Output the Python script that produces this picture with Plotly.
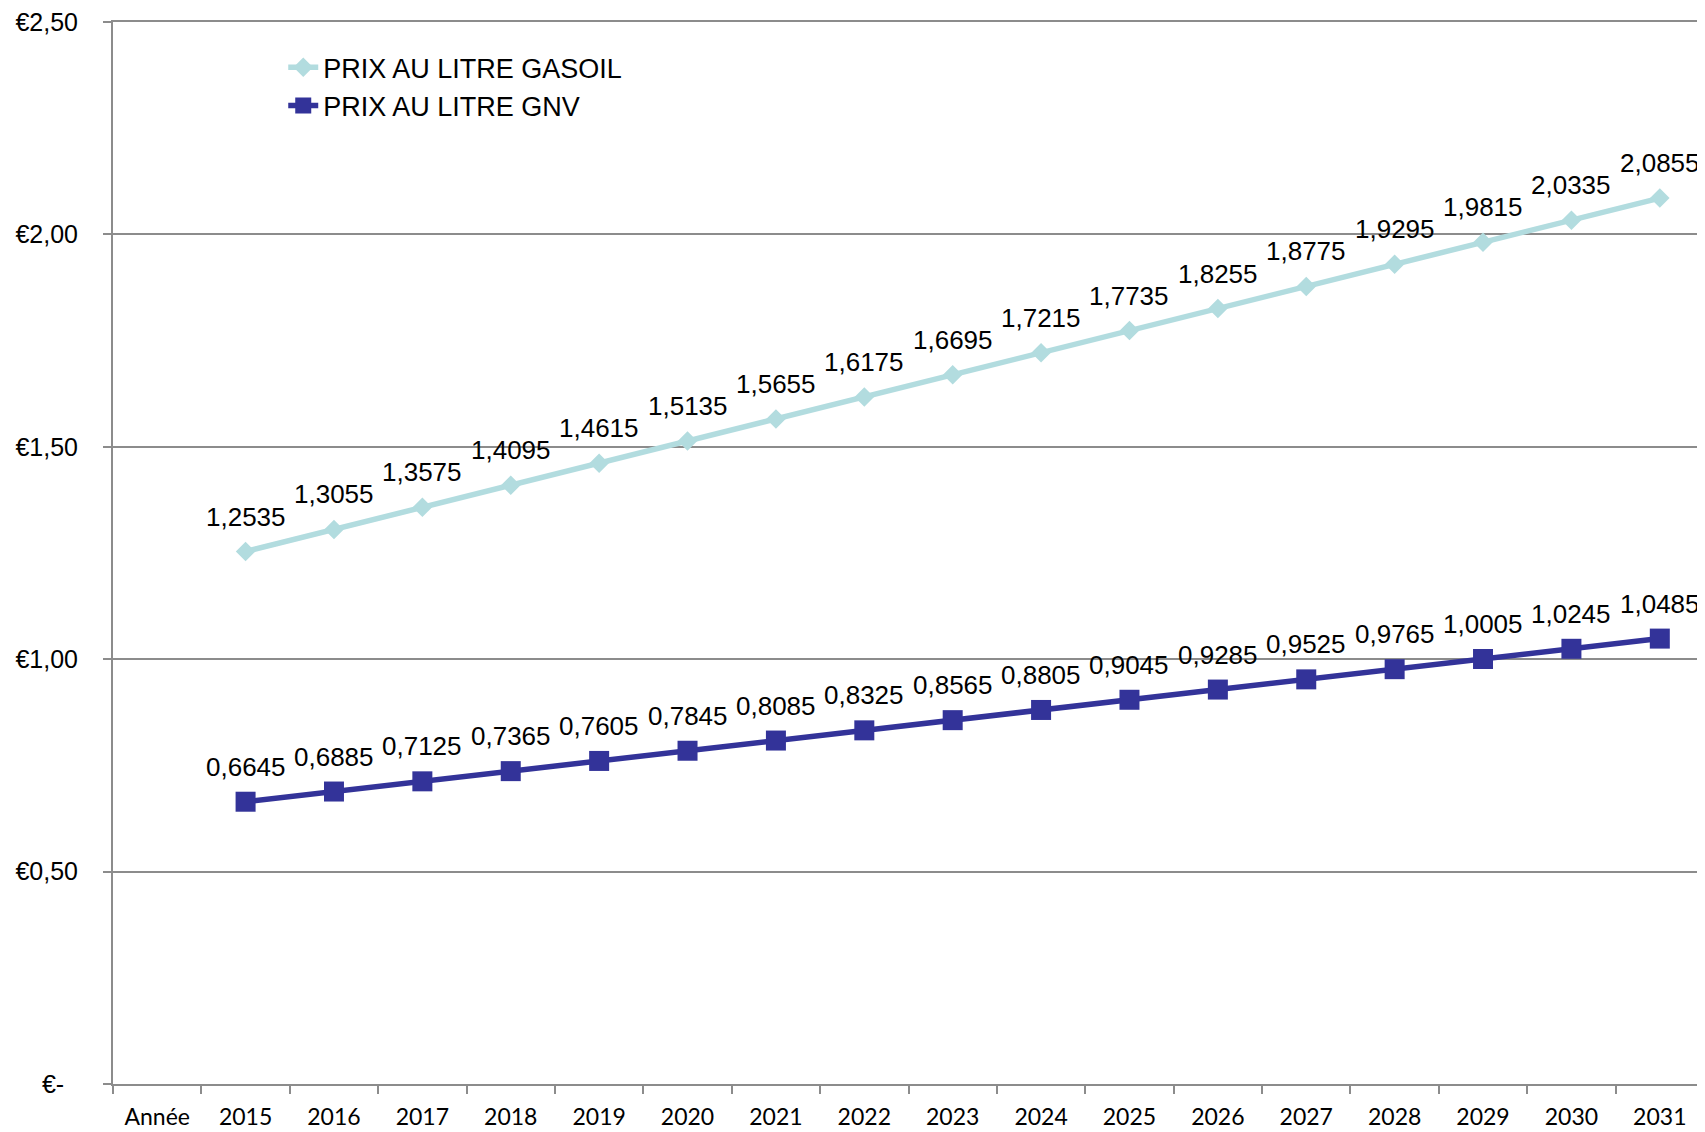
import plotly.graph_objects as go

categories = ["Année", "2015", "2016", "2017", "2018", "2019", "2020", "2021", "2022",
              "2023", "2024", "2025", "2026", "2027", "2028", "2029", "2030", "2031"]
years = categories[1:]
gasoil = [1.2535, 1.3055, 1.3575, 1.4095, 1.4615, 1.5135, 1.5655, 1.6175, 1.6695,
          1.7215, 1.7735, 1.8255, 1.8775, 1.9295, 1.9815, 2.0335, 2.0855]
gnv = [0.6645, 0.6885, 0.7125, 0.7365, 0.7605, 0.7845, 0.8085, 0.8325, 0.8565,
       0.8805, 0.9045, 0.9285, 0.9525, 0.9765, 1.0005, 1.0245, 1.0485]
y_tickvals = [0, 0.5, 1.0, 1.5, 2.0, 2.5]
y_ticktext = ["€-\u00a0\u00a0", "€0,50", "€1,00", "€1,50", "€2,00", "€2,50"]
names = ["PRIX AU LITRE GASOIL", "PRIX AU LITRE GNV"]

C_GAS = "#B2DCDF"
C_GNV = "#333399"
GRID = "#8C8C8C"
FONT = "Liberation Sans, Arial, sans-serif"

fig = go.Figure()
fig.add_trace(go.Scatter(
    x=years, y=gasoil, name=names[0], mode="lines+markers",
    line=dict(color=C_GAS, width=5.5),
    marker=dict(symbol="diamond", size=15, color=C_GAS),
))
fig.add_trace(go.Scatter(
    x=years, y=gnv, name=names[1], mode="lines+markers",
    line=dict(color=C_GNV, width=5.5),
    marker=dict(symbol="square", size=20, color=C_GNV),
))

def fmt(v):
    return f"{v:.4f}".replace(".", ",")

for series in (gasoil, gnv):
    for x, v in zip(years, series):
        fig.add_annotation(x=categories.index(x), y=v, text=fmt(v), showarrow=False,
                           yshift=35, font=dict(family=FONT, size=26, color="black"))

fig.update_layout(
    width=1697, height=1124,
    margin=dict(l=105, r=1, t=14, b=48),
    paper_bgcolor="white", plot_bgcolor="white",
    showlegend=True,
    legend=dict(x=0.107, y=0.98, xanchor="left", yanchor="top",
                bgcolor="rgba(0,0,0,0)",
                font=dict(family=FONT, size=27, color="black"),
                tracegroupgap=0),
)
fig.update_xaxes(
    type="category", categoryorder="array", categoryarray=categories,
    range=[-0.5, len(categories) - 0.5],
    showgrid=False, showline=True, linecolor=GRID, linewidth=2, mirror=True,
    ticks="outside", tickson="boundaries", ticklen=8, tickwidth=2, tickcolor=GRID,
    tickfont=dict(family="Lato, Open Sans, sans-serif", size=23, color="black"),
    ticklabelstandoff=11,
)
fig.update_yaxes(
    range=[0, 2.5], tickvals=y_tickvals, ticktext=y_ticktext,
    showgrid=True, gridcolor=GRID, gridwidth=1.5,
    showline=True, linecolor=GRID, linewidth=2,
    ticks="outside", ticklen=8, tickwidth=2, tickcolor=GRID,
    tickfont=dict(family=FONT, size=25, color="black"),
    ticklabelstandoff=20, zeroline=False, ticklabeloverflow="allow",
)
fig.write_html("out.html")
